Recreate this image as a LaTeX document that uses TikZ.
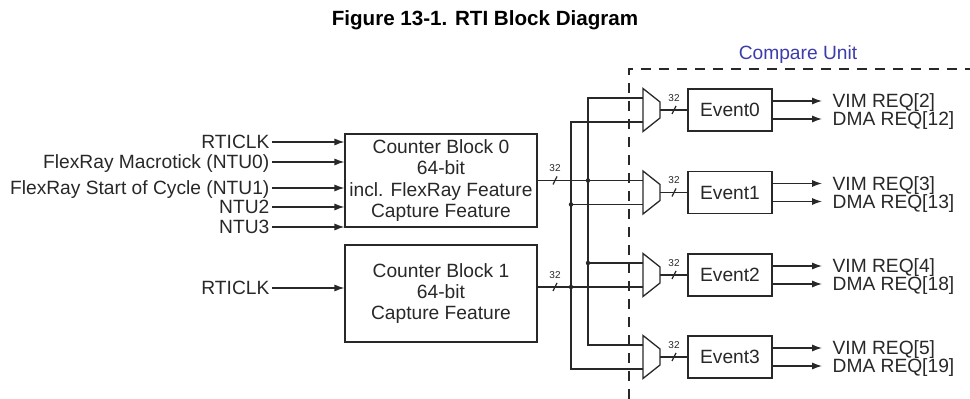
\documentclass[tikz,border=0pt]{standalone}
\usepackage{fontspec}
\setmainfont{Liberation Sans}
\usetikzlibrary{arrows.meta,positioning}

\definecolor{ink}{RGB}{40,40,40}
\definecolor{cmpblue}{RGB}{60,60,170}

% bus width mark: name, position
\newcommand{\busmark}[2]{%
  \draw (#2) ++(-2,4) -- ++(4,-8);
  \path (#2) ++(0,-12) node[tiny] (#1) {32};
}

\begin{document}
\begin{tikzpicture}[x=0.5pt,y=-0.5pt,line width=0.65pt,draw=ink]
\tikzset{
txt/.style={font=\fontsize{9.6}{10.7}\selectfont,text=ink},
block/.style={draw,txt,align=center,minimum width=96pt,inner sep=0pt},
event/.style={draw,txt,minimum width=42pt,minimum height=21pt,inner sep=0pt},
inlbl/.style={txt,anchor=east,inner xsep=1pt,inner ysep=0pt,text height=6.9pt,text depth=0pt},
outlbl/.style={txt,anchor=west,inner xsep=5pt,inner ysep=0pt,text height=6.9pt,text depth=0pt},
arr/.style={-{Latex[length=5pt,width=3.6pt]}},
tiny/.style={font=\fontsize{5}{5}\selectfont,text=ink,inner sep=0pt},
cmp/.style={dash pattern=on 5pt off 4pt}
}
\useasboundingbox (0,0) rectangle (970,399);

\node[font=\fontsize{10.3}{12}\selectfont\bfseries] (title) at (485,20) {Figure 13-1. RTI Block Diagram};
\node[txt,text=cmpblue] (cu) at (798,55) {Compare Unit};

% counter blocks
\node[block,minimum height=46.5pt] (cb0) at (441,180.5)
  {Counter Block 0\\64-bit\\incl. FlexRay Feature\\Capture Feature};
\node[block,minimum height=48.5pt] (cb1) at (441,293.5)
  {Counter Block 1\\64-bit\\Capture Feature};

\foreach \n/\y/\t in {a/142/RTICLK, b/162/FlexRay Macrotick (NTU0),
    c/188/FlexRay Start of Cycle (NTU1), d/207/NTU2, e/227/NTU3}{
  \node[inlbl] (in\n) at (272,\y) {\t};
  \draw[arr] (in\n.east) -- (in\n.east -| cb0.west);
}
\node[inlbl] (inf) at (272,288) {RTICLK};
\draw[arr] (inf.east) -- (inf.east -| cb1.west);

% compare unit: muxes and events
\foreach \i/\c/\v/\d in {0/110/2/12, 1/192.5/3/13, 2/275/4/18, 3/357/5/19}{
  \draw (643,\c-21.5) -- (660,\c-8) -- (660,\c+8) -- (643,\c+21.5) -- cycle;
  \coordinate (mux\i-a) at (643,\c-12);
  \coordinate (mux\i-b) at (643,\c+12);
  \coordinate (mux\i-o) at (660,\c);
  \node[event] (ev\i) at (730,\c) {Event\i};
  \draw (mux\i-o) -- (ev\i.west);
  \busmark{wm\i}{674,\c}
  \node[outlbl] (vim\i) at (822,\c-9) {VIM REQ[\v]};
  \node[outlbl] (dma\i) at (822,\c+9) {DMA REQ[\d]};
  \draw[arr] (ev\i.east |- vim\i) -- (vim\i.west);
  \draw[arr] (ev\i.east |- dma\i) -- (dma\i.west);
}

% buses
\coordinate (busA) at (588,0);
\coordinate (busB) at (571,0);
\draw (cb0.east) -- (mux1-a);
\draw (cb1.east |- mux2-b) -- (mux2-b);
\busmark{wcb0}{555,180.5}
\busmark{wcb1}{555,287}
\draw (mux0-a) -| (busA |- mux3-a) -- (mux3-a);
\draw (busA |- mux2-a) -- (mux2-a);
\draw (mux0-b) -| (busB |- mux3-b) -- (mux3-b);
\draw (busB |- mux1-b) -- (mux1-b);
\foreach \p in {busA |- mux1-a, busA |- mux2-a, busB |- mux1-b, busB |- mux2-b}
  \fill[ink] (\p) circle (2.2);

\draw[cmp] (629,399) -- (629,69) -- (970,69);
\end{tikzpicture}
\end{document}
